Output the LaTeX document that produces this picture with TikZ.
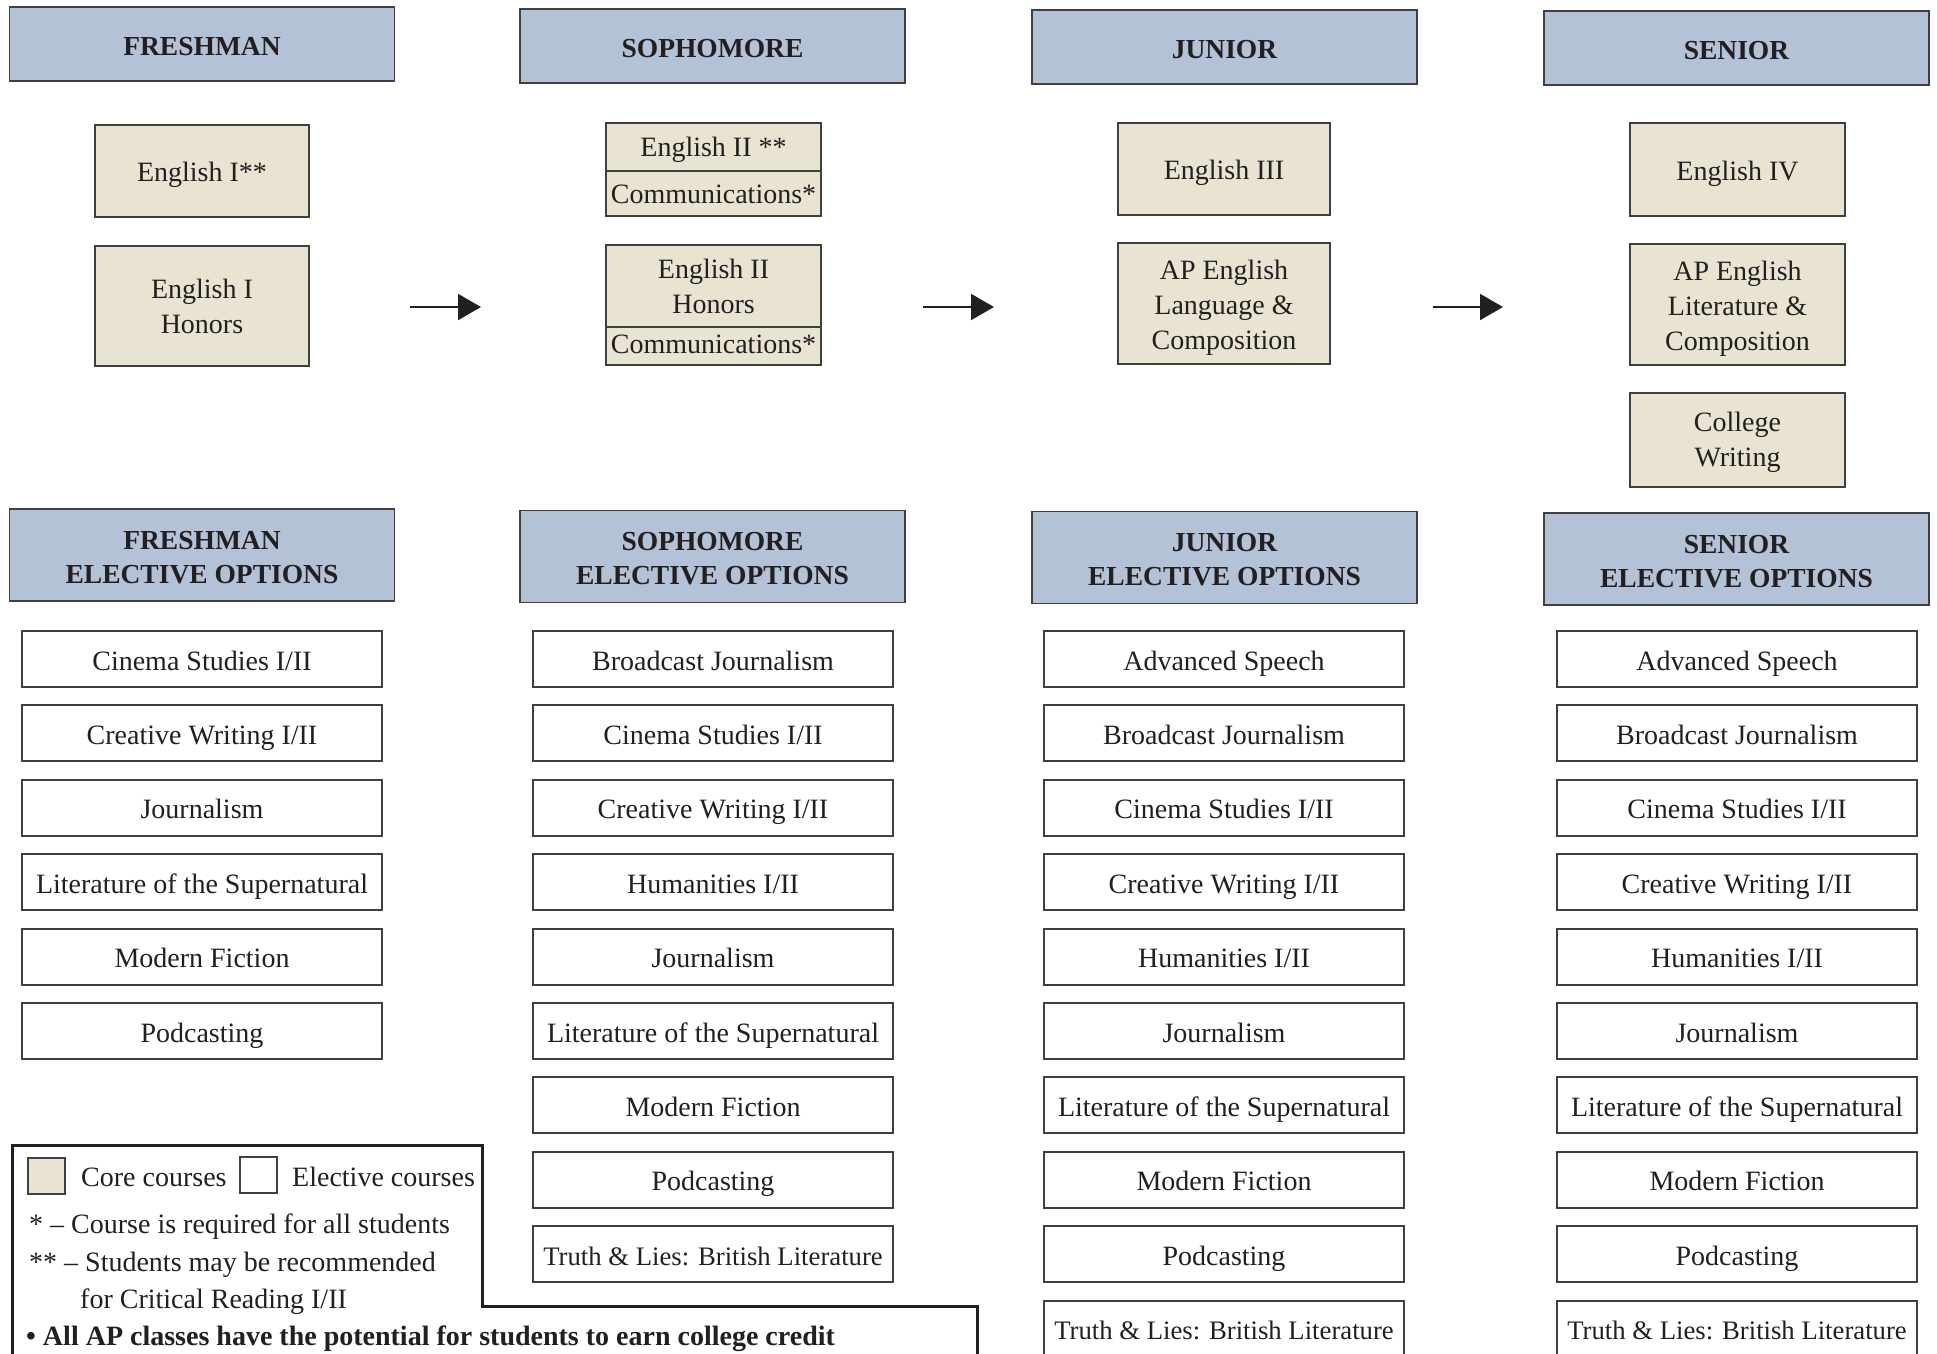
\documentclass[tikz,border=0pt]{standalone}
\usepackage{fontspec}
\setmainfont{Liberation Serif}
\usetikzlibrary{arrows.meta}
\definecolor{hdrfill}{RGB}{180,194,216}
\definecolor{corefill}{RGB}{233,227,210}
\definecolor{edgec}{RGB}{64,64,64}
\definecolor{ink}{RGB}{35,31,32}
\newcommand{\mlines}[2]{\raisebox{-#1}[\height][\depth]{\begin{tabular}{@{}c@{}}#2\end{tabular}}}
\begin{document}
\begin{tikzpicture}[x=1pt,y=-1pt,
  hdrbase/.style={draw=edgec, line width=1.5pt, fill=hdrfill, minimum width=385pt, minimum height=74pt, inner sep=0pt, font=\fontsize{27.5}{34}\selectfont\bfseries, text=ink},
  hdr/.style={hdrbase, text height=26pt, text depth=4pt},
  ehdr/.style={hdrbase, minimum height=92pt},
  corebox/.style={draw=edgec, line width=2pt, fill=corefill, minimum width=214pt, inner sep=0pt, font=\fontsize{28}{35}\selectfont, text=ink},
  core1/.style={corebox, text height=25pt, text depth=4pt},
  elect/.style={draw=edgec, line width=2pt, fill=white, minimum width=360pt, minimum height=56pt, inner sep=0pt, font=\fontsize{28}{35}\selectfont, text=ink, text height=26pt, text depth=4pt},
  legtext/.style={anchor=base west, inner sep=0pt, font=\fontsize{28}{35}\selectfont, text=ink},
  swatch/.style={draw=edgec, line width=2pt, minimum width=37pt, minimum height=36pt, inner sep=0pt},
  flow/.style={line width=2pt, draw=ink, -{Triangle[length=23pt,width=26pt]}}
]
\useasboundingbox[fill=white] (0,0) rectangle (1937,1353);

% year headers
\node[hdr] (hF) at (202,44) {FRESHMAN};
\node[hdr] (hS) at (712.5,46) {SOPHOMORE};
\node[hdr] (hJ) at (1224.5,47) {JUNIOR};
\node[hdr] (hN) at (1736.5,48) {SENIOR};

% core courses
\node[core1, minimum height=92pt] (f1) at (202,171) {English I**};
\node[corebox, minimum height=120pt] (f2) at (202,306) {\mlines{3pt}{English I\\Honors}};

\node[corebox, minimum width=215pt, minimum height=48pt, text height=24pt, text depth=5pt] (s1) at (713.5,147) {English II **};
\node[corebox, minimum width=215pt, minimum height=45pt, text height=24pt, text depth=4pt] (s1b) at (713.5,193.5) {Communications*};
\node[corebox, minimum width=215pt, minimum height=82pt] (s2) at (713.5,286) {\mlines{3pt}{English II\\Honors}};
\node[corebox, minimum width=215pt, minimum height=38pt, text height=21pt, text depth=7pt] (s2b) at (713.5,346) {Communications*};

\node[core1, minimum width=212pt, minimum height=92pt] (j1) at (1224,169) {English III};
\node[corebox, minimum width=212pt, minimum height=121pt] (j2) at (1224,303.5) {\mlines{4pt}{AP English\\Language \&\\Composition}};

\node[core1, minimum width=215pt, minimum height=93pt] (n1) at (1737.5,169.5) {English IV};
\node[corebox, minimum width=215pt, minimum height=121pt] (n2) at (1737.5,304.5) {\mlines{4pt}{AP English\\Literature \&\\Composition}};
\node[corebox, minimum width=215pt, minimum height=94pt] (n3) at (1737.5,440) {\mlines{1.5pt}{College\\Writing}};

% arrows
\coordinate (a1s) at (410,307); \coordinate (a1e) at (481,307);
\coordinate (a2s) at (923,307); \coordinate (a2e) at (994,307);
\coordinate (a3s) at (1433,307); \coordinate (a3e) at (1503,307);
\draw[flow] (a1s) -- (a1e);
\draw[flow] (a2s) -- (a2e);
\draw[flow] (a3s) -- (a3e);

% elective headers
\node[ehdr] (eF) at (202,555) {\mlines{4.2pt}{FRESHMAN\\ELECTIVE OPTIONS}};
\node[ehdr] (eS) at (712.5,556.5) {\mlines{4.2pt}{SOPHOMORE\\ELECTIVE OPTIONS}};
\node[ehdr] (eJ) at (1224.5,557.5) {\mlines{4.2pt}{JUNIOR\\ELECTIVE OPTIONS}};
\node[ehdr] (eN) at (1736.5,559) {\mlines{4.2pt}{SENIOR\\ELECTIVE OPTIONS}};

% electives
\newcommand{\truthlies}{{\fontsize{26.7}{35}\selectfont Truth \& Lies: British Literature}}
\foreach \t [count=\i] in {{Cinema Studies I/II},{Creative Writing I/II},{Journalism},{Literature of the Supernatural},{Modern Fiction},{Podcasting}}
  \node[elect] (fe\i) at (202,{659+74.4*(\i-1)}) {\t};
\foreach \t [count=\i] in {{Broadcast Journalism},{Cinema Studies I/II},{Creative Writing I/II},{Humanities I/II},{Journalism},{Literature of the Supernatural},{Modern Fiction},{Podcasting},{\truthlies}}
  \node[elect] (se\i) at (713,{659+74.4*(\i-1)}) {\t};
\foreach \cx/\nm in {1224/je,1737/ne}{
  \foreach \t [count=\i] in {{Advanced Speech},{Broadcast Journalism},{Cinema Studies I/II},{Creative Writing I/II},{Humanities I/II},{Journalism},{Literature of the Supernatural},{Modern Fiction},{Podcasting},{\truthlies}}
    \node[elect] (\nm\i) at (\cx,{659+74.4*(\i-1)}) {\t};
}

% legend
\draw[line width=3pt, ink] (12,1365) -- (12,1145) -- (482,1145) -- (482,1306) -- (977,1306) -- (977,1365);
\node[swatch, fill=corefill] (swc) at (46.5,1175.5) {};
\node[swatch, fill=white] (swe) at (258.5,1174.5) {};
\node[legtext] (lc) at (81,1186) {Core courses};
\node[legtext] (le) at (292,1186) {Elective courses};
\node[legtext] (l1) at (29,1233) {* -- Course is required for all students};
\node[legtext] (l2) at (29,1271) {** -- Students may be recommended};
\node[legtext] (l3) at (80,1308) {for Critical Reading I/II};
\node[legtext, font=\fontsize{28}{35}\selectfont\bfseries] (l4) at (26,1345) {\textbullet{} All AP classes have the potential for students to earn college credit};
\end{tikzpicture}
\end{document}
